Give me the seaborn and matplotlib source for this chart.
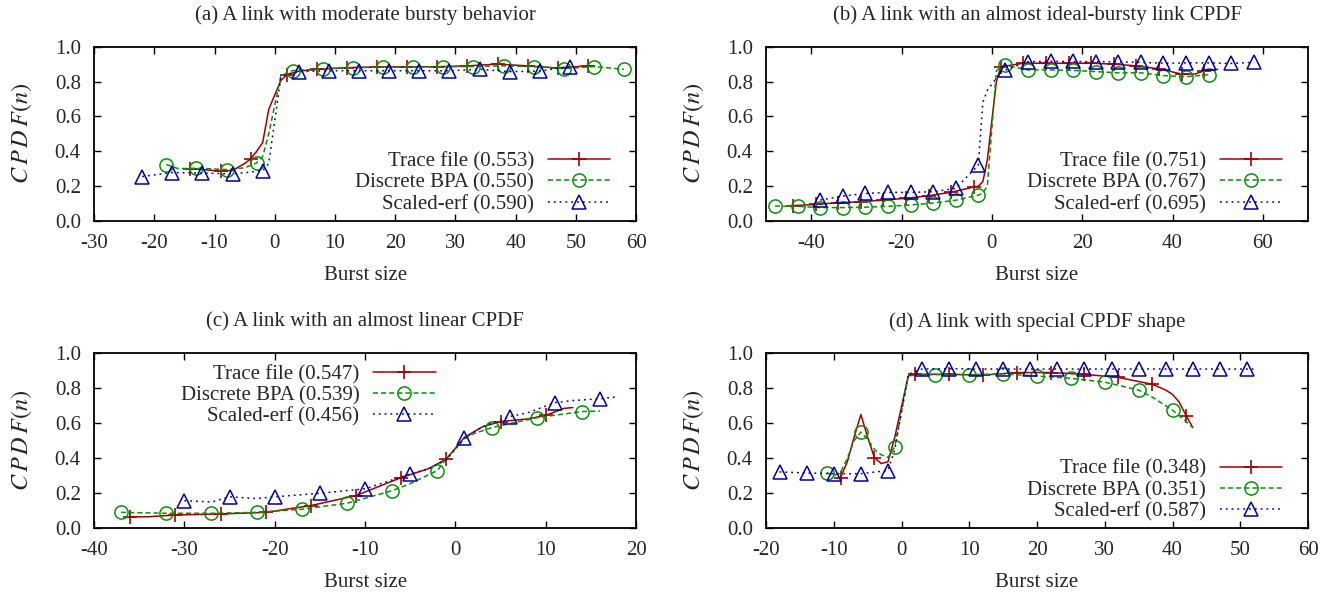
import matplotlib
matplotlib.use("Agg")
import matplotlib.pyplot as plt
import seaborn as sns

# ---------------- data: burst size vs CPDF(n) ----------------
# (a) moderate bursty behaviour
A_TRACE_X = [-14, -12, -9, -7, -5, -4, -3, -2, -1, 1, 2, 4, 7, 12, 17, 22, 27, 32, 37, 42, 47, 52, 53]
A_TRACE_Y = [0.300, 0.295, 0.286, 0.290, 0.330, 0.356, 0.400, 0.450, 0.640, 0.805, 0.840, 0.860, 0.870,
             0.880, 0.883, 0.885, 0.885, 0.890, 0.900, 0.890, 0.878, 0.890, 0.890]
A_BPA_X = [-18, -16, -13, -8, -5, -3, -2, -1, 1, 2, 3, 8, 13, 18, 23, 28, 33, 38, 43, 48, 53, 58]
A_BPA_Y = [0.324, 0.300, 0.303, 0.295, 0.305, 0.333, 0.370, 0.500, 0.830, 0.850, 0.863, 0.873, 0.880,
           0.883, 0.883, 0.885, 0.886, 0.890, 0.885, 0.874, 0.886, 0.870]
A_ERF_X = [-22, -17, -12, -7, -2, -1, 1, 2, 4, 9, 14, 19, 24, 29, 34, 39, 44, 49]
A_ERF_Y = [0.255, 0.278, 0.275, 0.270, 0.288, 0.330, 0.820, 0.840, 0.857, 0.862, 0.862, 0.862, 0.862,
           0.862, 0.870, 0.857, 0.860, 0.886]

# (b) almost ideal-bursty link
B_TRACE_X = [-44, -39, -34, -29, -24, -19, -14, -9, -4, -3, -2, -1, 1, 2, 7, 12, 17, 22, 27, 32, 37,
             42, 45, 47, 50]
B_TRACE_Y = [0.088, 0.095, 0.105, 0.110, 0.120, 0.130, 0.145, 0.165, 0.195, 0.200, 0.225, 0.350, 0.800,
             0.885, 0.905, 0.905, 0.905, 0.905, 0.900, 0.890, 0.873, 0.843, 0.843, 0.862, 0.870]
B_BPA_X = [-48, -43, -38, -33, -28, -23, -18, -13, -8, -3, -2, -1, 1, 2, 3, 8, 13, 18, 23, 28, 33,
           38, 43, 48]
B_BPA_Y = [0.086, 0.084, 0.077, 0.077, 0.079, 0.084, 0.092, 0.103, 0.119, 0.148, 0.160, 0.200, 0.860,
           0.885, 0.893, 0.867, 0.867, 0.864, 0.857, 0.850, 0.850, 0.834, 0.828, 0.839]
B_ERF_X = [-38, -33, -28, -23, -18, -13, -8, -3, -2, -1, 1, 2, 3, 8, 13, 18, 23, 28, 33, 38, 43, 48,
           53, 58]
B_ERF_Y = [0.120, 0.143, 0.158, 0.164, 0.164, 0.168, 0.187, 0.320, 0.680, 0.750, 0.820, 0.860, 0.866,
           0.914, 0.916, 0.915, 0.914, 0.913, 0.910, 0.905, 0.907, 0.907, 0.904, 0.910]

# (c) almost linear CPDF
C_TRACE_X = [-36, -34, -31, -26, -21, -16, -11, -6, -3, -1, 1, 3, 5, 8, 10, 12, 13]
C_TRACE_Y = [0.065, 0.066, 0.076, 0.082, 0.091, 0.130, 0.187, 0.290, 0.340, 0.396, 0.520, 0.580,
             0.610, 0.625, 0.645, 0.685, 0.690]
C_BPA_X = [-37, -32, -27, -22, -17, -12, -7, -5, -2, -1, 1, 2, 4, 9, 14, 16]
C_BPA_Y = [0.091, 0.086, 0.086, 0.091, 0.109, 0.143, 0.215, 0.255, 0.330, 0.400, 0.510, 0.540,
           0.575, 0.632, 0.667, 0.670]
C_ERF_X = [-30, -27, -25, -22, -20, -15, -10, -5, -3, -1, 1, 3, 6, 8, 11, 13, 16, 18]
C_ERF_Y = [0.158, 0.150, 0.180, 0.170, 0.180, 0.200, 0.226, 0.310, 0.340, 0.390, 0.516, 0.580,
           0.638, 0.660, 0.718, 0.730, 0.740, 0.752]

# (d) special CPDF shape
D_TRACE_X = [-9, -8, -7, -6, -5, -4, -3, -2, -1, 1, 2, 7, 12, 17, 22, 27, 32, 37, 39, 40, 41, 42, 43]
D_TRACE_Y = [0.290, 0.380, 0.520, 0.650, 0.520, 0.404, 0.370, 0.380, 0.520, 0.870, 0.880, 0.880,
             0.875, 0.890, 0.890, 0.880, 0.862, 0.823, 0.790, 0.765, 0.720, 0.644, 0.575]
D_BPA_X = [-11, -10, -9, -8, -7, -6, -5, -4, -3, -2, -1, 1, 2, 5, 10, 15, 20, 25, 30, 35, 37, 40, 42, 43]
D_BPA_Y = [0.318, 0.300, 0.320, 0.400, 0.500, 0.550, 0.510, 0.450, 0.420, 0.405, 0.465, 0.870, 0.875,
           0.878, 0.878, 0.882, 0.870, 0.857, 0.835, 0.790, 0.750, 0.675, 0.610, 0.575]
D_ERF_X = [-18, -14, -10, -6, -2, -1, 1, 2, 3, 7, 11, 15, 19, 23, 27, 31, 35, 39, 43, 47, 51, 52]
D_ERF_Y = [0.322, 0.316, 0.312, 0.312, 0.330, 0.450, 0.880, 0.895, 0.910, 0.912, 0.910, 0.910, 0.910,
           0.910, 0.910, 0.910, 0.910, 0.910, 0.910, 0.910, 0.910, 0.910]

TITLES = [
    "(a) A link with moderate bursty behavior",
    "(b) A link with an almost ideal-bursty link CPDF",
    "(c) A link with an almost linear CPDF",
    "(d) A link with special CPDF shape",
]
SCORES = [
    ("0.553", "0.550", "0.590"),
    ("0.751", "0.767", "0.695"),
    ("0.547", "0.539", "0.456"),
    ("0.348", "0.351", "0.587"),
]
SERIES_NAMES = ["Trace file", "Discrete BPA", "Scaled-erf"]
XLIMS = [(-30, 60), (-50, 70), (-40, 20), (-20, 60)]
XTICKS = [list(range(-30, 61, 10)), list(range(-40, 61, 20)),
          list(range(-40, 21, 10)), list(range(-20, 61, 10))]

PANELS = [
    ((A_TRACE_X, A_TRACE_Y), (A_BPA_X, A_BPA_Y), (A_ERF_X, A_ERF_Y)),
    ((B_TRACE_X, B_TRACE_Y), (B_BPA_X, B_BPA_Y), (B_ERF_X, B_ERF_Y)),
    ((C_TRACE_X, C_TRACE_Y), (C_BPA_X, C_BPA_Y), (C_ERF_X, C_ERF_Y)),
    ((D_TRACE_X, D_TRACE_Y), (D_BPA_X, D_BPA_Y), (D_ERF_X, D_ERF_Y)),
]
# point interval (in burst-size samples, size 0 excluded) for each series of each panel
POINT_STEP = [(5, 5, 5), (5, 5, 5), (5, 5, 5), (5, 5, 4)]

# ---------------- styling ----------------
sns.set_style("ticks")
plt.rcParams["font.family"] = ["Liberation Serif", "DejaVu Serif"]
plt.rcParams["mathtext.fontset"] = "stix"
plt.rcParams["axes.unicode_minus"] = False

FS = 15
STYLES = [
    dict(color="#a00000", linestyle="-", marker="+", ms=10.5, mew=1.2),
    dict(color="#0a8f0a", linestyle=(0, (3.3, 2.0)), marker="o", ms=9.5, mew=1.1,
         mfc="none"),
    dict(color="#0000a0", linestyle=(0, (1.2, 2.6)), marker="^", ms=9.5, mew=1.1,
         mfc="none"),
]

AX_POS = [
    (0.0703, 0.6317, 0.4051, 0.2905),
    (0.5725, 0.6317, 0.4051, 0.2905),
    (0.0703, 0.1195, 0.4051, 0.2917),
    (0.5725, 0.1195, 0.4051, 0.2917),
]
LEGEND_LOC = [
    ("lower right", (0.952, 0.04)),
    ("lower right", (0.952, 0.04)),
    ("upper right", (0.63, 0.935)),
    ("lower right", (0.952, 0.04)),
]


def point_mask(xs, step):
    """Markers every `step` samples of the integer burst-size grid (size 0 absent)."""
    x0 = xs[0]
    mask = []
    for x in xs:
        rank = x - x0 - (1 if (x > 0 and x0 < 0) else 0)
        mask.append(rank % step == 0)
    return mask


fig = plt.figure(figsize=(13.38, 6), dpi=100)

for i, series in enumerate(PANELS):
    ax = fig.add_axes(AX_POS[i])
    for j, (xs, ys) in enumerate(series):
        st = dict(STYLES[j])
        sns.lineplot(
            x=xs, y=ys, ax=ax, sort=False, estimator=None, errorbar=None,
            lw=1.1, mec=st["color"], markevery=point_mask(xs, POINT_STEP[i][j]),
            label=f"{SERIES_NAMES[j]} ({SCORES[i][j]})", **st,
        )
    ax.set_xlim(*XLIMS[i])
    ax.set_ylim(0, 1.0)
    ax.set_xticks(XTICKS[i])
    ax.set_yticks([0.0, 0.2, 0.4, 0.6, 0.8, 1.0])
    ax.set_yticklabels([f"{v:.1f}" for v in [0.0, 0.2, 0.4, 0.6, 0.8, 1.0]])
    ax.tick_params(direction="in", top=True, right=True, length=5, width=1.0,
                   labelsize=FS, pad=9.5, color="black")
    for sp in ax.spines.values():
        sp.set_linewidth(1.3)
        sp.set_color("black")
    ax.set_title(TITLES[i], fontsize=FS, pad=19)
    ax.set_xlabel("Burst size", fontsize=FS, labelpad=9)
    ax.set_ylabel(r"$C\,P\,D\,F(n)$", fontsize=FS + 2.5, labelpad=15)
    loc, anchor = LEGEND_LOC[i]
    ax.legend(loc=loc, bbox_to_anchor=anchor, frameon=False, markerfirst=False,
              fontsize=FS, handlelength=3.0, handletextpad=0.65, labelspacing=0.08,
              borderpad=0.0, borderaxespad=0.0)

fig.savefig("out.png", dpi=100)
